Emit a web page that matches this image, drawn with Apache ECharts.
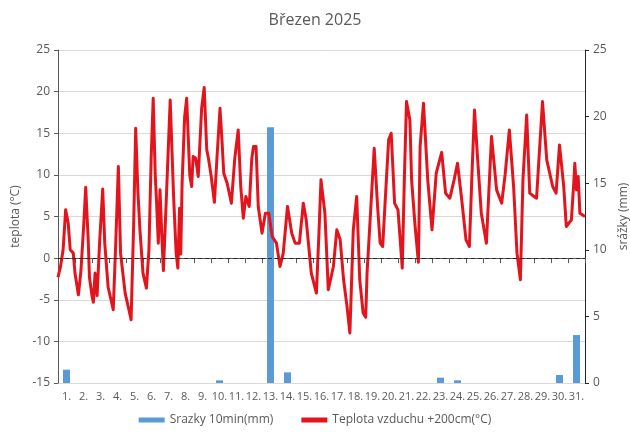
<!DOCTYPE html>
<html>
<head>
<meta charset="utf-8">
<script src="https://cdn.jsdelivr.net/npm/echarts@6/dist/echarts.min.js"></script>
<style>
  html, body { margin: 0; padding: 0; background: #fff; }
  #main { width: 630px; height: 437px; }
</style>
</head>
<body>
<div id="main"></div>
<script>
var days = [];
for (var d = 1; d <= 31; d++) days.push(d + '.');

// srážky po dnech (mm)
var rain = [1.0, 0, 0, 0, 0, 0, 0, 0, 0, 0.2, 0, 0, 19.2, 0.8, 0, 0, 0, 0, 0, 0, 0, 0, 0.4, 0.2, 0, 0, 0, 0, 0, 0.6, 3.6];

// teplota: čas ve dnech od začátku měsíce a hodnota °C
var tempTime = [0.0, 0.15, 0.3, 0.45, 0.52, 0.6, 0.72, 0.9, 1.0, 1.2, 1.35, 1.5, 1.63, 1.78, 1.85, 2.0, 2.08, 2.18, 2.3, 2.45,
  2.63, 2.75, 2.95, 3.25, 3.4, 3.55, 3.68, 3.95, 4.15, 4.3, 4.45, 4.57, 4.7, 4.82, 5.0, 5.2, 5.35, 5.48, 5.6, 5.72,
  5.8, 5.9, 6.0, 6.1, 6.2, 6.35, 6.6, 6.8, 6.95, 7.05, 7.15, 7.22, 7.3, 7.45, 7.57, 7.75, 7.86, 7.95, 8.1, 8.25,
  8.45, 8.6, 8.75, 8.85, 9.0, 9.2, 9.35, 9.53, 9.65, 9.75, 9.95, 10.2, 10.4, 10.6, 10.75, 10.9, 11.05, 11.25, 11.4, 11.5,
  11.65, 11.78, 12.0, 12.2, 12.4, 12.6, 12.85, 13.06, 13.25, 13.5, 13.75, 13.95, 14.2, 14.43, 14.6, 14.9, 15.2, 15.35, 15.47, 15.7,
  15.9, 16.0, 16.2, 16.4, 16.6, 16.8, 17.0, 17.17, 17.37, 17.57, 17.75, 17.95, 18.1, 18.18, 18.4, 18.6, 18.8, 18.95, 19.1, 19.25,
  19.45, 19.6, 19.8, 20.0, 20.25, 20.38, 20.5, 20.7, 20.8, 21.0, 21.2, 21.3, 21.5, 21.75, 22.0, 22.25, 22.57, 22.8, 23.05, 23.3,
  23.5, 23.75, 24.0, 24.2, 24.35, 24.5, 24.7, 24.9, 25.2, 25.5, 25.8, 26.1, 26.3, 26.55, 26.8, 27.0, 27.2, 27.35, 27.57, 27.75,
  28.0, 28.15, 28.5, 28.75, 29.1, 29.3, 29.5, 29.75, 29.9, 30.2, 30.35, 30.4, 30.5, 30.6, 30.7, 31.0];
var tempValue = [-2.3, -1.0, 1.0, 5.8, 6.0, 4.2, 1.0, 0.6, -1.8, -4.4, -1.5, 3.5, 8.5, 2.0, -2.3, -4.5, -5.3, -1.8, -4.5, 2.0,
  8.3, 1.8, -3.5, -6.2, 2.0, 11.0, 0.6, -4.2, -6.0, -7.4, 4.0, 15.6, 8.0, 3.4, -1.8, -3.6, 1.0, 12.0, 19.2, 10.0,
  6.6, 1.8, 8.2, 3.0, -1.5, 6.0, 19.0, 7.4, 0.6, -1.2, 6.0, 0.5, 9.0, 17.0, 19.2, 10.0, 8.6, 12.2, 12.0, 9.8,
  18.0, 20.5, 13.0, 12.0, 10.0, 6.7, 12.0, 18.0, 14.0, 10.2, 9.0, 6.6, 12.0, 15.4, 8.6, 4.8, 7.4, 6.2, 12.0, 13.4,
  13.4, 6.2, 3.0, 5.4, 5.4, 2.6, 1.8, -1.0, 0.6, 6.2, 3.0, 1.8, 1.8, 6.6, 4.6, -1.8, -4.2, 3.0, 9.4, 5.4,
  -3.8, -3.8, -1.0, 3.4, 2.2, -2.6, -5.8, -9.0, 3.4, 7.4, -2.6, -6.6, -7.1, -1.8, 6.0, 13.2, 6.2, 1.8, 1.4, 7.0,
  14.2, 15.0, 6.6, 5.8, -1.2, 10.0, 18.8, 16.6, 9.4, 4.0, -0.5, 13.4, 18.6, 9.4, 3.4, 10.2, 12.7, 7.8, 7.2, 9.4,
  11.4, 7.0, 2.2, 1.4, 10.0, 17.8, 11.4, 5.4, 1.8, 14.6, 8.2, 6.6, 10.0, 15.4, 8.6, 0.6, -2.6, 9.4, 17.2, 7.8,
  7.4, 7.2, 18.8, 11.8, 8.6, 7.8, 13.6, 8.6, 3.8, 4.6, 9.4, 11.4, 8.2, 9.8, 5.4, 5.0];

var tempData = tempTime.map(function (t, i) { return [t, tempValue[i]]; });

var txt = '#595959';
var chart = echarts.init(document.getElementById('main'));

var option = {
  animation: false,
  title: {
    text: 'Březen 2025',
    left: 'center',
    top: 7,
    textStyle: { color: txt, fontSize: 16, fontWeight: 'normal', fontFamily: 'Open Sans' }
  },
  legend: {
    bottom: 6,
    left: 'center',
    itemGap: 28,
    itemWidth: 26,
    itemHeight: 5,
    textStyle: { color: txt, fontSize: 12, fontFamily: 'Open Sans' },
    data: [
      { name: 'Srazky 10min(mm)', icon: 'rect' },
      { name: 'Teplota vzduchu +200cm(°C)', icon: 'rect' }
    ]
  },
  grid: { left: 58, right: 45, top: 50, bottom: 54, outerBoundsMode: 'none' },
  xAxis: [{
    type: 'category',
    data: days,
    axisLine: { lineStyle: { color: txt } },
    axisTick: { show: true, interval: 0, length: 5, lineStyle: { color: txt } },
    axisLabel: { interval: 0, color: txt, fontSize: 11, fontFamily: 'Open Sans', margin: 8 }
  }, {
    type: 'value',
    min: 0,
    max: 31,
    show: false
  }],
  yAxis: [{
    type: 'value',
    min: -15,
    max: 25,
    interval: 5,
    name: 'teplota (°C)',
    nameLocation: 'middle',
    nameGap: 32,
    nameRotate: 90,
    nameTextStyle: { color: txt, fontSize: 12, fontFamily: 'Open Sans' },
    axisLine: { show: true, lineStyle: { color: txt } },
    axisTick: { show: true, length: 4, lineStyle: { color: txt } },
    axisLabel: { color: txt, fontSize: 12, fontFamily: 'Open Sans' },
    splitLine: { lineStyle: { color: '#d9d9d9' } }
  }, {
    type: 'value',
    min: 0,
    max: 25,
    interval: 5,
    name: 'srážky (mm)',
    nameLocation: 'middle',
    nameGap: 28,
    nameRotate: 90,
    nameTextStyle: { color: txt, fontSize: 12, fontFamily: 'Open Sans' },
    axisLine: { show: true, lineStyle: { color: '#262626' } },
    axisTick: { show: true, length: 4, lineStyle: { color: '#262626' } },
    axisLabel: { color: txt, fontSize: 12, fontFamily: 'Open Sans' },
    splitLine: { show: false }
  }],
  series: [{
    name: 'Srazky 10min(mm)',
    type: 'bar',
    xAxisIndex: 0,
    yAxisIndex: 1,
    barWidth: 7,
    itemStyle: { color: '#5b9bd5' },
    data: rain,
    z: 1
  }, {
    name: 'Teplota vzduchu +200cm(°C)',
    type: 'line',
    xAxisIndex: 1,
    yAxisIndex: 0,
    symbol: 'none',
    smooth: false,
    lineStyle: { color: '#e3141c', width: 3, join: 'round' },
    itemStyle: { color: '#e3141c' },
    data: tempData,
    z: 3,
    markLine: {
      silent: true,
      symbol: 'none',
      label: { show: false },
      lineStyle: { color: '#262626', type: [4, 3], width: 1.2 },
      data: [{ yAxis: 0 }]
    }
  }]
};
chart.setOption(option);
</script>
</body>
</html>
